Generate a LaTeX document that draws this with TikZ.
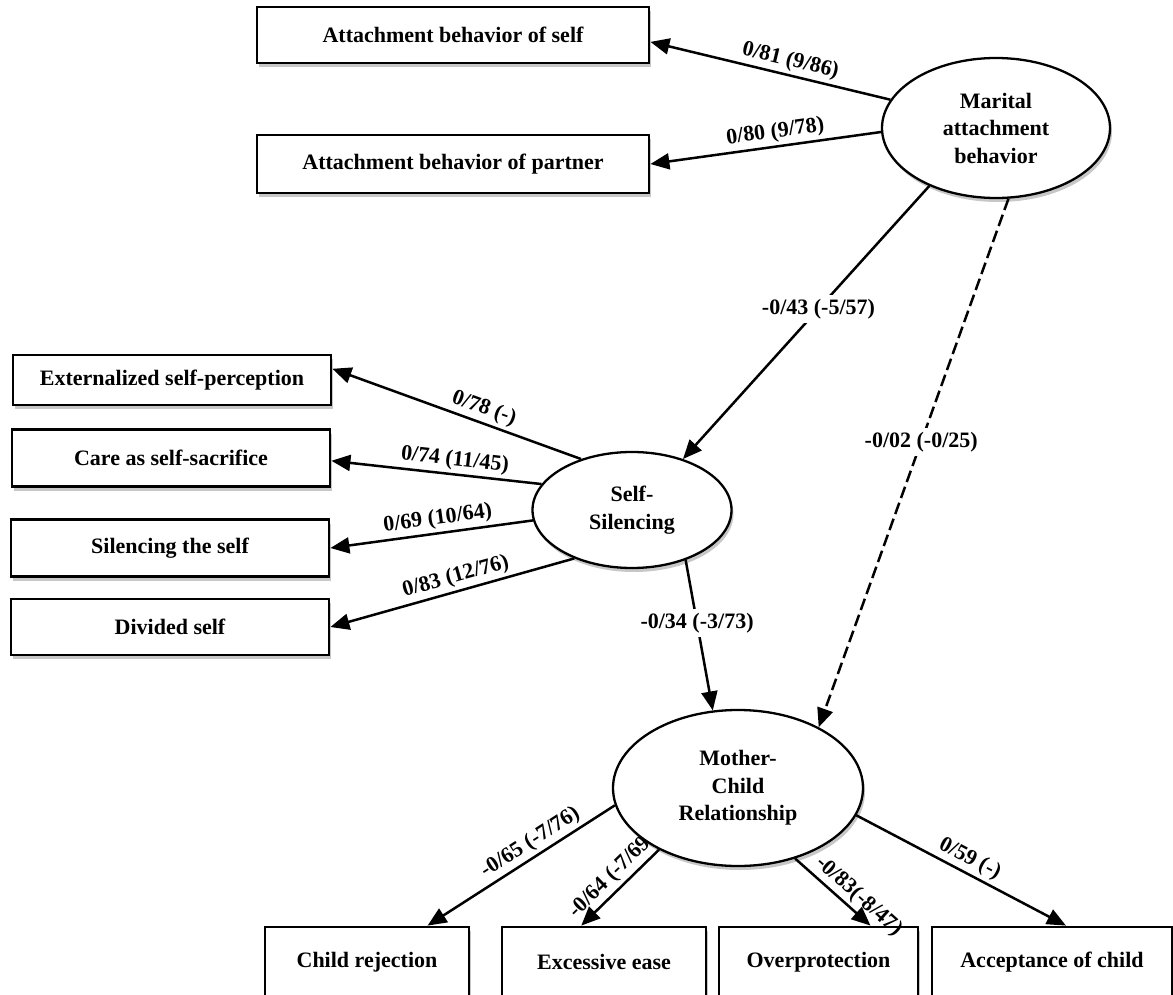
\documentclass[tikz,border=0pt]{standalone}
\usepackage{fontspec}
\setmainfont{Liberation Serif}
\usetikzlibrary{arrows.meta,shapes.geometric,shadows}
\tikzset{
	every node/.style={font=\fontsize{22}{27.5}\selectfont\bfseries},
	softshadow/.style={drop shadow={shadow xshift=2pt,shadow yshift=-4pt,opacity=.22,fill=black}},
	obsbox/.style={draw,line width=2.8pt,fill=white,inner sep=0pt,softshadow},
	latent/.style={ellipse,draw,line width=2.3pt,fill=white,inner sep=0pt,align=center,softshadow},
	regpath/.style={line width=2.5pt,-{Triangle[length=19pt,width=16pt]}},
	coef/.style={sloped,above,inner sep=3pt},
	coefw/.style={fill=white,inner sep=4pt}
}
\begin{document}
\begin{tikzpicture}[x=1pt,y=-1pt]
	\useasboundingbox (0,0) rectangle (1173,995);
	\node [obsbox,minimum width=392pt,minimum height=56pt] (abs) at (453,35) {Attachment behavior of self};
	\node [obsbox,minimum width=392pt,minimum height=58pt] (abp) at (453,164) {Attachment behavior of partner};
	\node [latent,minimum width=228pt,minimum height=140pt] (mab) at (996,128) {Marital\\attachment\\behavior};
	\node [obsbox,minimum width=318pt,minimum height=50pt] (esp) at (172,380) {Externalized self-perception};
	\node [obsbox,minimum width=318pt,minimum height=57pt] (css) at (171,458) {Care as self-sacrifice};
	\node [obsbox,minimum width=318pt,minimum height=57pt] (sts) at (170,548) {Silencing the self};
	\node [obsbox,minimum width=318pt,minimum height=56pt] (dvs) at (170,627) {Divided self};
	\node [latent,minimum width=199pt,minimum height=116pt] (ssl) at (632,510) {Self-\\Silencing};
	\node [latent,minimum width=250pt,minimum height=156pt] (mcr) at (738,788) {Mother-\\Child\\Relationship};
	\node [obsbox,minimum width=204pt,minimum height=70pt] (crj) at (367,962) {Child rejection};
	\node [obsbox,minimum width=204pt,minimum height=70pt] (exe) at (604,962) {Excessive ease};
	\node [obsbox,minimum width=199pt,minimum height=70pt] (ovp) at (818.5,962) {Overprotection};
	\node [obsbox,minimum width=240pt,minimum height=70pt] (acc) at (1052,962) {Acceptance of child};

	\draw [regpath] (mab.165) -- node [coef,pos=0.43] {0/81 (9/86)} (abs.-2);
	\draw [regpath] (mab.182) -- node [coef,pos=0.45] {0/80 (9/78)} (abp.east);
	\draw [regpath] (mab.221) -- node [coefw,pos=0.45] {-0/43 (-5/57)} (ssl.45);
	\draw [regpath,dash pattern=on 12pt off 5pt] (mab.-80) -- node [coefw,pos=0.46] {-0/02 (-0/25)} (mcr.37);
	\draw [regpath] (ssl.135) -- node [coef,pos=0.41] {0/78 (-)} (esp.4);
	\draw [regpath] (ssl.164) -- node [coef,pos=0.42] {0/74 (11/45)} (css.-1);
	\draw [regpath] (ssl.186) -- node [coef,pos=0.46] {0/69 (10/64)} (sts.east);
	\draw [regpath] (ssl.220) -- node [coef,pos=0.47] {0/83 (12/76)} (dvs.east);
	\draw [regpath] (ssl.-43) -- node [coefw,pos=0.42] {-0/34 (-3/73)} (mcr.108);
	\draw [regpath] (mcr.188) -- node [coef,pos=0.41] {-0/65 (-7/76)} (crj.31);
	\draw [regpath] (mcr.218) -- node [coef,pos=0.5] {-0/64 (-7/69} (exe.122);
	\draw [regpath] (mcr.-51) -- node [coef,pos=0.72] {-0/83(-8/47)} (ovp.35);
	\draw [regpath] (mcr.-13) -- node [coef,pos=0.51] {0/59 (-)} (acc.69);
\end{tikzpicture}
\end{document}
